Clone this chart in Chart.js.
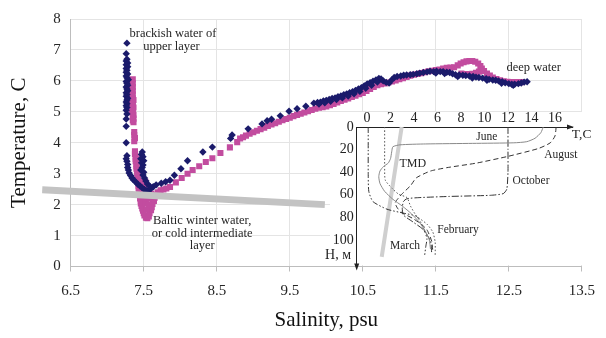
<!DOCTYPE html>
<html>
<head>
<meta charset="utf-8">
<title>T-S diagram</title>
<script src="https://cdn.jsdelivr.net/npm/chart.js"></script>
<style>
body { margin: 0; background: #fff; }
.wrap { position: relative; width: 606px; height: 338px; }
#mainChart { position: absolute; left: 0; top: 0; }
#insetChart { position: absolute; left: 300px; top: 100px; }
</style>
</head>
<body>
<div class="wrap">
  <canvas id="mainChart" width="606" height="338"></canvas>
  <canvas id="insetChart" width="306" height="180"></canvas>
</div>
<script>
// main T-S diagram: [salinity, temperature]
const salTicks = [6.5, 7.5, 8.5, 9.5, 10.5, 11.5, 12.5, 13.5];
const tempTicks = [0, 1, 2, 3, 4, 5, 6, 7, 8];

const navyPoints = [
  // upper layer column
  [7.27,7.22],[7.26,6.88],[7.27,6.70],[7.26,6.64],[7.28,6.58],[7.26,6.52],[7.28,6.46],[7.26,6.40],[7.27,6.34],[7.26,6.28],
  [7.28,6.22],[7.26,6.16],[7.27,6.10],[7.29,6.04],[7.26,5.98],[7.27,5.92],[7.28,5.86],[7.26,5.80],[7.27,5.74],[7.28,5.68],
  [7.26,5.62],[7.27,5.56],[7.26,5.50],[7.28,5.44],[7.27,5.38],[7.26,5.32],[7.27,5.26],[7.26,5.20],[7.27,5.14],[7.26,5.05],
  [7.27,4.93],[7.26,4.77],[7.26,4.53],[7.26,4.00],
  // left branch
  [7.27,3.58],[7.26,3.48],[7.27,3.40],[7.28,3.30],[7.28,3.20],[7.29,3.12],[7.30,3.02],[7.32,2.94],[7.34,2.86],[7.36,2.80],
  [7.39,2.73],[7.42,2.66],[7.45,2.60],[7.48,2.54],[7.51,2.49],[7.54,2.45],[7.57,2.47],[7.60,2.52],[7.63,2.58],
  // small cluster
  [7.48,3.70],[7.47,3.62],[7.49,3.55],[7.46,3.48],[7.50,3.42],[7.47,3.35],[7.49,3.28],[7.48,3.20],[7.46,3.12],[7.50,3.05],
  [7.49,2.96],[7.51,2.86],[7.53,2.76],[7.55,2.67],[7.58,2.60],
  // rising arm
  [7.67,2.64],[7.74,2.69],[7.80,2.74],[7.86,2.79],[7.92,2.95],[8.01,3.16],[8.10,3.42],[8.31,3.70],[8.44,3.86],[8.69,4.14],
  [8.71,4.25],[8.93,4.45],[9.12,4.61],[9.19,4.71],[9.25,4.76],[9.37,4.87],[9.49,5.02],[9.60,5.10],[9.72,5.18],[9.83,5.28],
  // deep part
  [9.88,5.30],[9.92,5.31],[9.96,5.35],[10.00,5.37],[10.04,5.40],[10.08,5.43],[10.12,5.45],[10.16,5.49],[10.20,5.51],[10.24,5.55],
  [10.28,5.58],[10.32,5.62],[10.36,5.65],[10.40,5.69],[10.44,5.74],[10.48,5.78],[10.52,5.84],[10.56,5.90],[10.60,5.94],[10.64,5.99],
  [10.68,6.03],[10.72,6.08],[10.75,6.06],[10.78,6.00],[10.82,5.95],[10.86,5.93],[10.90,6.04],[10.93,6.11],[10.97,6.14],[11.02,6.16],
  [11.06,6.18],[11.10,6.19],[11.15,6.20],[11.19,6.21],[11.24,6.23],[11.28,6.25],[11.33,6.27],[11.38,6.29],[11.42,6.31],[11.47,6.30],
  [11.51,6.31],[11.56,6.30],[11.60,6.30],[11.65,6.28],[11.69,6.27],[11.73,6.23],[11.77,6.20],[11.82,6.19],[11.87,6.18],[11.91,6.17],
  [11.96,6.16],[12.01,6.14],[12.05,6.12],[12.09,6.11],[12.14,6.09],[12.19,6.07],[12.23,6.05],[12.28,6.03],[12.32,6.02],[12.36,6.00],
  [12.41,5.97],[12.45,5.94],[12.50,5.91],[12.54,5.89],[12.58,5.89],[12.63,5.91],[12.67,5.93],[12.71,5.96],[12.75,5.97],
  // lower edge of the band
  [9.90,5.25],[9.98,5.29],[10.06,5.34],[10.14,5.40],[10.22,5.45],[10.30,5.51],[10.38,5.58],[10.46,5.66],[10.54,5.76],[10.62,5.86],
  [10.70,5.96],[11.50,6.25],[11.62,6.24],[11.80,6.14],[12.00,6.09],[12.20,6.02],[12.40,5.92],[12.56,5.86]
];

const pinkPoints = [
  // upper layer column
  [7.35,6.05],[7.34,5.98],[7.35,5.92],[7.34,5.86],[7.35,5.80],[7.34,5.74],[7.35,5.68],[7.34,5.62],[7.35,5.56],[7.34,5.50],
  [7.35,5.44],[7.36,5.38],[7.35,5.32],[7.34,5.26],[7.35,5.20],[7.36,5.14],[7.35,5.08],[7.34,5.02],[7.35,4.96],[7.36,4.90],
  [7.35,4.84],[7.36,4.78],[7.35,4.72],[7.36,4.66],
  [7.37,4.35],[7.37,4.25],[7.38,4.15],[7.37,4.05],
  // cold layer, left arm
  [7.38,3.72],[7.38,3.64],[7.39,3.56],[7.39,3.48],[7.39,3.40],[7.40,3.32],[7.40,3.24],[7.40,3.16],[7.41,3.08],[7.41,3.00],
  [7.42,2.92],[7.42,2.84],[7.42,2.76],[7.43,2.68],[7.43,2.60],[7.43,2.52],[7.44,2.44],[7.44,2.36],[7.45,2.28],[7.45,2.20],
  [7.46,2.12],[7.46,2.04],[7.47,1.96],[7.48,1.88],[7.49,1.80],[7.50,1.72],[7.51,1.65],[7.53,1.58],[7.55,1.56],
  // right arm
  [7.57,1.62],[7.58,1.72],[7.60,1.82],[7.61,1.92],[7.62,2.02],[7.64,2.12],[7.65,2.22],[7.67,2.32],[7.69,2.40],[7.73,2.46],
  [7.77,2.49],[7.81,2.52],[7.86,2.57],
  // inside the minimum
  [7.49,2.40],[7.52,2.25],[7.53,2.05],[7.54,1.85],[7.57,2.00],[7.58,2.20],[7.55,2.40],[7.60,2.35],[7.50,2.60],[7.47,2.75],
  [7.52,2.75],[7.57,2.55],
  // rising arm
  [7.94,2.72],[8.02,2.86],[8.10,3.00],[8.17,3.12],[8.26,3.24],[8.35,3.38],[8.44,3.50],[8.55,3.67],[8.68,3.85],[8.78,4.02],
  // deep part
  [8.82,4.14],[8.86,4.18],[8.90,4.23],[8.95,4.29],[9.00,4.34],[9.05,4.39],[9.10,4.44],[9.15,4.49],[9.20,4.54],[9.25,4.59],
  [9.30,4.63],[9.35,4.68],[9.40,4.73],[9.45,4.77],[9.50,4.81],[9.55,4.86],[9.60,4.90],[9.65,4.94],[9.70,4.98],[9.75,5.02],
  [9.80,5.06],[9.85,5.10],[9.90,5.13],[9.95,5.15],[10.00,5.17],[10.05,5.21],[10.10,5.25],[10.15,5.30],[10.20,5.35],[10.25,5.39],
  [10.30,5.43],[10.35,5.48],[10.40,5.52],[10.45,5.57],[10.50,5.61],[10.55,5.67],[10.60,5.74],[10.65,5.80],[10.70,5.86],[10.75,5.89],
  [10.80,5.92],[10.85,5.95],[10.90,5.98],[10.95,6.01],[11.00,6.05],[11.05,6.09],[11.10,6.13],[11.15,6.17],[11.20,6.20],[11.25,6.22],
  [11.30,6.25],[11.35,6.28],[11.40,6.31],[11.45,6.33],[11.50,6.35],[11.55,6.37],[11.60,6.40],[11.65,6.42],[11.70,6.43],[11.75,6.44],
  [11.80,6.50],[11.84,6.56],[11.88,6.60],[11.92,6.63],[11.96,6.64],[12.00,6.64],[12.04,6.62],[12.08,6.56],[12.11,6.48],[12.13,6.40],
  [12.16,6.32],[12.20,6.24],[12.24,6.17],[12.28,6.11],[12.33,6.06],[12.38,6.02],[12.43,5.99],[12.48,5.97],[12.54,5.96],[12.60,5.96],
  [12.67,5.96],
  [11.85,6.24],[11.90,6.22],[11.95,6.22],[12.00,6.23],[12.05,6.26],[12.09,6.30],[12.12,6.36]
];

// thick grey line through the cold layer minimum
const coreLine = [[6.11, 2.48], [9.98, 2.0]];

// inset: temperature profiles [T, depth]
const insetTempTicks = [0, 2, 4, 6, 8, 10, 12, 14, 16];
const depthTicks = [0, 20, 40, 60, 80, 100];
const juneProfile = [[15.0,0],[14.8,5],[14.3,10],[13.6,13],[12.5,14],[9,14.5],[5,15],[2.8,15.8],[2.2,17.5],[2.1,22],[2.0,28],[1.8,32],[1.4,35],[1.1,39],[1.0,44],[1.1,50],[1.5,57],[2.2,64],[3.0,70],[3.8,77],[4.5,85],[5.0,93],[5.3,100],[5.4,108]];
const augustProfile = [[16.1,0],[16.0,8],[15.6,14],[14.6,19],[12.0,26],[9.3,32],[6.8,36],[5.4,39],[4.2,45],[3.7,52],[2.95,59.6],[2.4,67],[2.6,72],[3.0,76],[3.9,81],[4.6,86],[5.1,91],[5.5,101],[5.6,110]];
const octoberProfile = [[12.0,0],[12.0,20],[12.0,40],[11.9,55],[11.6,59],[10.5,60.5],[7,61.5],[4.5,62.5],[3.4,63.5],[3.1,66],[3.0,72],[3.1,78],[3.9,84],[4.8,91],[5.4,101],[5.5,111]];
const februaryProfile = [[1.5,0],[1.5,20],[1.5,35],[1.55,47],[2.1,54],[2.7,59.6],[3.4,62.5],[3.7,70],[4.2,78.6],[5.1,86],[5.6,93],[5.8,102],[5.8,114]];
const marchProfile = [[0.1,0],[0.1,20],[0.1,40],[0.15,57],[0.5,66],[1.7,72.8],[3.1,76.3],[4.2,79],[4.6,85],[4.9,92],[5.1,99],[5.0,106],[4.9,114]];
const tmdLine = [[2.95,0],[1.25,115]];

const serif = "'Liberation Serif', 'Times New Roman', serif";
const navyColor = '#1b1b6b';
const pinkColor = '#c24c9f';

function toXY(list) {
  return list.map(p => ({ x: p[0], y: p[1] }));
}
function fixedTicks(values) {
  return function (scale) { scale.ticks = values.map(v => ({ value: v })); };
}

// text notes, placed in data units
const mainNotes = [
  { text: 'brackish water of', x: 7.90, y: 7.51 },
  { text: 'upper layer', x: 7.88, y: 7.11 },
  { text: 'Baltic winter water,', x: 8.30, y: 1.49 },
  { text: 'or cold intermediate', x: 8.30, y: 1.07 },
  { text: 'layer', x: 8.30, y: 0.67 },
  { text: 'deep water', x: 12.84, y: 6.42 }
];
const insetNotes = [
  { text: 'June', x: 10.2, y: 8.8, size: 11.5 },
  { text: 'August', x: 16.5, y: 24.6, size: 11.5 },
  { text: 'TMD', x: 3.9, y: 32.5, size: 12 },
  { text: 'October', x: 13.96, y: 48, size: 11.5 },
  { text: 'February', x: 7.75, y: 91, size: 11.5 },
  { text: 'March', x: 3.23, y: 105, size: 11.5 },
  { text: 'T,C', x: 18.27, y: 7, size: 13.5 },
  { text: 'H, м', x: -2.47, y: 114, size: 14 }
];

function notesPlugin(notes, defaultSize) {
  return {
    id: 'notes',
    afterDatasetsDraw(chart) {
      const ctx = chart.ctx;
      const xs = chart.scales.x, ys = chart.scales.y;
      ctx.save();
      ctx.fillStyle = '#262626';
      ctx.textAlign = 'center';
      ctx.textBaseline = 'middle';
      notes.forEach(n => {
        ctx.font = (n.size || defaultSize) + 'px ' + serif;
        ctx.fillText(n.text, xs.getPixelForValue(n.x), ys.getPixelForValue(n.y));
      });
      ctx.restore();
    }
  };
}

new Chart(document.getElementById('mainChart'), {
  type: 'scatter',
  data: {
    datasets: [
      {
        label: 'core',
        data: toXY(coreLine),
        showLine: true,
        borderColor: '#c3c3c3',
        borderWidth: 7,
        borderCapStyle: 'butt',
        pointRadius: 0,
        clip: false
      },
      {
        label: 'series 1',
        data: toXY(navyPoints),
        pointStyle: 'rectRot',
        pointRadius: 3.7,
        backgroundColor: navyColor,
        borderWidth: 0
      },
      {
        label: 'series 2',
        data: toXY(pinkPoints),
        pointStyle: 'rect',
        pointRadius: 4.3,
        backgroundColor: pinkColor,
        borderWidth: 0
      }
    ]
  },
  options: {
    responsive: false,
    animation: false,
    events: [],
    layout: { padding: { left: 0, right: 15, top: 9, bottom: 0 } },
    plugins: { legend: { display: false }, tooltip: { enabled: false } },
    scales: {
      x: {
        type: 'linear',
        min: 6.5,
        max: 13.5,
        afterBuildTicks: fixedTicks(salTicks),
        afterFit: s => { s.height = 71.5; },
        grid: { color: '#e4e4e4', tickLength: 5, tickColor: '#bdbdbd' },
        border: { color: '#bdbdbd' },
        ticks: { font: { family: serif, size: 15 }, color: '#262626', padding: 11, callback: v => String(v) },
        title: { display: true, text: 'Salinity, psu', font: { family: serif, size: 21 }, color: '#111', padding: { top: 0, bottom: 5 } }
      },
      y: {
        type: 'linear',
        min: 0,
        max: 8,
        afterBuildTicks: fixedTicks(tempTicks),
        afterFit: s => { s.width = 70.7; },
        grid: { color: '#e4e4e4', drawTicks: false },
        border: { color: '#bdbdbd' },
        ticks: { font: { family: serif, size: 15 }, color: '#262626', padding: 10, callback: v => String(v) },
        title: { display: true, text: 'Temperature, C', font: { family: serif, size: 21 }, color: '#111', padding: { top: 7, bottom: 0 } }
      }
    }
  },
  plugins: [notesPlugin(mainNotes, 12.5)]
});

// inset background and axis arrows
const insetBox = {
  id: 'insetBox',
  beforeDraw(chart) {
    const ctx = chart.ctx;
    ctx.save();
    ctx.fillStyle = '#fff';
    ctx.fillRect(30, 12, 259, 153);
    ctx.restore();
  },
  afterDraw(chart) {
    const ctx = chart.ctx;
    const a = chart.chartArea;
    ctx.save();
    ctx.fillStyle = '#222';
    ctx.beginPath();
    ctx.moveTo(a.right + 2, a.top);
    ctx.lineTo(a.right - 5, a.top - 2.5);
    ctx.lineTo(a.right - 5, a.top + 2.5);
    ctx.closePath();
    ctx.fill();
    ctx.beginPath();
    ctx.moveTo(a.left, a.bottom + 2);
    ctx.lineTo(a.left - 2.5, a.bottom - 5);
    ctx.lineTo(a.left + 2.5, a.bottom - 5);
    ctx.closePath();
    ctx.fill();
    ctx.restore();
  }
};

function profile(label, list, color, width, dash) {
  return {
    label: label,
    data: toXY(list),
    showLine: true,
    borderColor: color,
    borderWidth: width,
    borderDash: dash,
    pointRadius: 0,
    tension: 0.2,
    clip: false
  };
}

new Chart(document.getElementById('insetChart'), {
  type: 'scatter',
  data: {
    datasets: [
      profile('June', juneProfile, '#8a8a8a', 1, []),
      profile('August', augustProfile, '#333', 1, [5, 3]),
      profile('October', octoberProfile, '#333', 1, [7, 2, 1.5, 2]),
      profile('February', februaryProfile, '#555', 1, [1.5, 2]),
      profile('March', marchProfile, '#333', 1, [6, 2, 1.5, 2, 1.5, 2]),
      profile('TMD', tmdLine, '#cfcfcf', 4, [])
    ]
  },
  options: {
    responsive: false,
    animation: false,
    events: [],
    layout: { padding: { left: 0, right: 34, top: 0, bottom: 10 } },
    plugins: { legend: { display: false }, tooltip: { enabled: false } },
    scales: {
      x: {
        type: 'linear',
        position: 'top',
        min: -0.88,
        max: 17.45,
        afterBuildTicks: fixedTicks(insetTempTicks),
        afterFit: s => { s.height = 27; },
        grid: { display: false, drawTicks: false },
        border: { display: true, color: '#222', width: 1 },
        ticks: { font: { family: serif, size: 14 }, color: '#222', padding: 0 }
      },
      y: {
        type: 'linear',
        reverse: true,
        min: 0,
        max: 125.4,
        afterBuildTicks: fixedTicks(depthTicks),
        afterFit: s => { s.width = 56.7; },
        grid: { display: false, drawTicks: false },
        border: { display: true, color: '#222', width: 1 },
        ticks: { font: { family: serif, size: 14 }, color: '#222', padding: 3 }
      }
    }
  },
  plugins: [insetBox, notesPlugin(insetNotes, 11.5)]
});
</script>
</body>
</html>
